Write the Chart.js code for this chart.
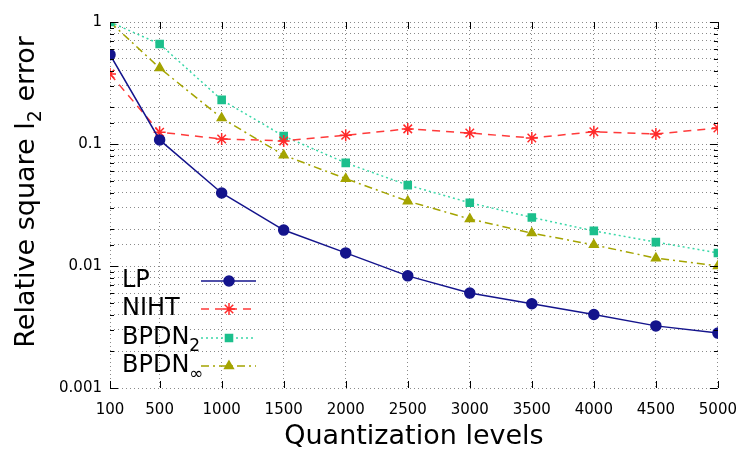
<!DOCTYPE html>
<html>
<head>
<meta charset="utf-8">
<script src="https://cdn.jsdelivr.net/npm/chart.js@4"></script>
<style>
  body { margin: 0; background: #fff; }
  canvas { display: block; }
</style>
</head>
<body>
<canvas id="chart" width="750" height="450"></canvas>
<script>
// quantization levels on the x axis
const levels = [100, 500, 1000, 1500, 2000, 2500, 3000, 3500, 4000, 4500, 5000];

// relative square l2 error
const lpErr = [0.54, 0.108, 0.0397, 0.0197, 0.0128, 0.0083, 0.006, 0.0049, 0.004, 0.00323, 0.00282];
const nihtErr = [0.375, 0.125, 0.11, 0.106, 0.118, 0.133, 0.123, 0.112, 0.126, 0.121, 0.135];
const bpdn2Err = [1.0, 0.66, 0.23, 0.116, 0.07, 0.046, 0.033, 0.025, 0.0194, 0.0157, 0.0128];
const bpdnInfErr = [1.0, 0.42, 0.163, 0.081, 0.052, 0.034, 0.0243, 0.0186, 0.0149, 0.0116, 0.01];

const yLabels = [1, 0.1, 0.01, 0.001];

const FONT = "'DejaVu Sans', sans-serif";

function toPoints(vals) {
    return vals.map((v, i) => ({ x: levels[i], y: v }));
}

const series = [
    { name: "LP", sub: "", data: lpErr, color: "#14148c", line: "#14148c", dash: [], point: "circle", r: 5 },
    { name: "NIHT", sub: "", data: nihtErr, color: "#ff2a2a", line: "#ff3a3a", dash: [8, 6], point: "star", r: 6 },
    { name: "BPDN", sub: "2", data: bpdn2Err, color: "#1cbf8c", line: "#3ad8a8", dash: [2, 3], point: "rect", r: 5 },
    { name: "BPDN", sub: "\u221e", data: bpdnInfErr, color: "#a4a400", line: "#a4a400", dash: [8, 4, 2, 4], point: "triangle", r: 5 },
];

// gnuplot-ish legend: text on the left, sample on the right
const legendPlugin = {
    id: "sideLegend",
    afterDraw(chart) {
        const ctx = chart.ctx;
        const rows = [281, 309, 338, 366];
        ctx.save();
        series.forEach((s, i) => {
            const y = rows[i];
            ctx.fillStyle = "#000";
            ctx.font = "24px " + FONT;
            ctx.textBaseline = "middle";
            ctx.textAlign = "left";
            ctx.fillText(s.name, 122, y);
            if (s.sub) {
                const w = ctx.measureText(s.name).width;
                ctx.font = "17px " + FONT;
                ctx.fillText(s.sub, 122 + w, y + 9);
            }
            ctx.strokeStyle = s.line;
            ctx.lineWidth = 1.5;
            ctx.setLineDash(s.dash);
            ctx.beginPath();
            ctx.moveTo(201, y);
            ctx.lineTo(256, y);
            ctx.stroke();
            ctx.setLineDash([]);
            ctx.fillStyle = s.color;
            ctx.strokeStyle = s.color;
            Chart.helpers.drawPoint(ctx, {
                pointStyle: s.point, radius: s.r, borderWidth: 1.5, rotation: 0
            }, 229, y);
        });
        ctx.restore();
    }
};

// y title drawn by hand so the 2 can be a real subscript
const yTitlePlugin = {
    id: "yTitle",
    afterDraw(chart) {
        const ctx = chart.ctx;
        ctx.save();
        ctx.translate(27, 192);
        ctx.rotate(-Math.PI / 2);
        ctx.fillStyle = "#000";
        ctx.textBaseline = "middle";
        ctx.textAlign = "left";
        const big = "27px " + FONT, small = "19px " + FONT;
        const parts = [["Relative square l", big, 0], ["2", small, 9], [" error", big, 0]];
        let total = 0;
        parts.forEach(p => { ctx.font = p[1]; total += ctx.measureText(p[0]).width; });
        let x = -total / 2;
        parts.forEach(p => {
            ctx.font = p[1];
            ctx.fillText(p[0], x, p[2]);
            x += ctx.measureText(p[0]).width;
        });
        ctx.restore();
    }
};

// short inward tick marks on all four sides
const tickPlugin = {
    id: "inTicks",
    afterDatasetsDraw(chart) {
        const ctx = chart.ctx;
        const a = chart.chartArea;
        const xs = chart.scales.x, ys = chart.scales.y;
        ctx.save();
        ctx.strokeStyle = "#000";
        ctx.lineWidth = 1;
        xs.ticks.forEach(t => {
            const px = Math.round(xs.getPixelForValue(t.value)) + 0.5;
            ctx.beginPath();
            ctx.moveTo(px, a.bottom); ctx.lineTo(px, a.bottom - 7);
            ctx.moveTo(px, a.top); ctx.lineTo(px, a.top + 7);
            ctx.stroke();
        });
        ys.ticks.forEach(t => {
            const py = Math.round(ys.getPixelForValue(t.value)) + 0.5;
            const major = yLabels.some(v => Math.abs(v - t.value) < 1e-9);
            const len = major ? 8 : 4;
            ctx.beginPath();
            ctx.moveTo(a.left, py); ctx.lineTo(a.left + len, py);
            ctx.moveTo(a.right, py); ctx.lineTo(a.right - len, py);
            ctx.stroke();
        });
        ctx.restore();
    }
};

new Chart(document.getElementById("chart"), {
    type: "line",
    data: {
        datasets: series.map(s => ({
            label: s.name + s.sub,
            data: toPoints(s.data),
            borderColor: s.line,
            backgroundColor: s.color,
            pointBackgroundColor: s.color,
            pointBorderColor: s.color,
            borderWidth: 1.5,
            borderDash: s.dash,
            pointStyle: s.point,
            pointRadius: s.r,
            pointBorderWidth: 1.5,
            fill: false,
            tension: 0,
        })),
    },
    options: {
        responsive: false,
        animation: false,
        layout: { padding: { top: 22, right: 31, left: 0, bottom: 0 } },
        plugins: {
            legend: { display: false },
            tooltip: { enabled: false },
        },
        scales: {
            x: {
                type: "linear",
                min: 100,
                max: 5000,
                afterBuildTicks(scale) {
                    scale.ticks = levels.map(v => ({ value: v }));
                },
                afterFit(scale) { scale.height = 62; },
                border: { display: false, dash: [1, 3] },
                grid: {
                    color: "#8a8a8a",
                    drawTicks: false,
                    lineWidth: 1,
                },
                ticks: {
                    color: "#000",
                    font: { family: FONT, size: 15 },
                    padding: 13,
                    maxRotation: 0,
                    autoSkip: false,
                    callback: v => String(v),
                },
                title: {
                    display: true,
                    text: "Quantization levels",
                    color: "#000",
                    font: { family: FONT, size: 27, lineHeight: 1.0 },
                    padding: { top: 0, bottom: 0 },
                },
            },
            y: {
                type: "logarithmic",
                min: 0.001,
                max: 1,
                afterFit(scale) { scale.width = 110; },
                border: { display: false, dash: [1, 3] },
                grid: {
                    color: "#8a8a8a",
                    drawTicks: false,
                    lineWidth: 1,
                },
                ticks: {
                    color: "#000",
                    font: { family: FONT, size: 15 },
                    padding: 8,
                    autoSkip: false,
                    callback: function (v) {
                        const hit = yLabels.find(l => Math.abs(l - v) < 1e-9);
                        return hit !== undefined ? String(hit) : "";
                    },
                },
            },
        },
    },
    plugins: [tickPlugin, legendPlugin, yTitlePlugin],
});
</script>
</body>
</html>
